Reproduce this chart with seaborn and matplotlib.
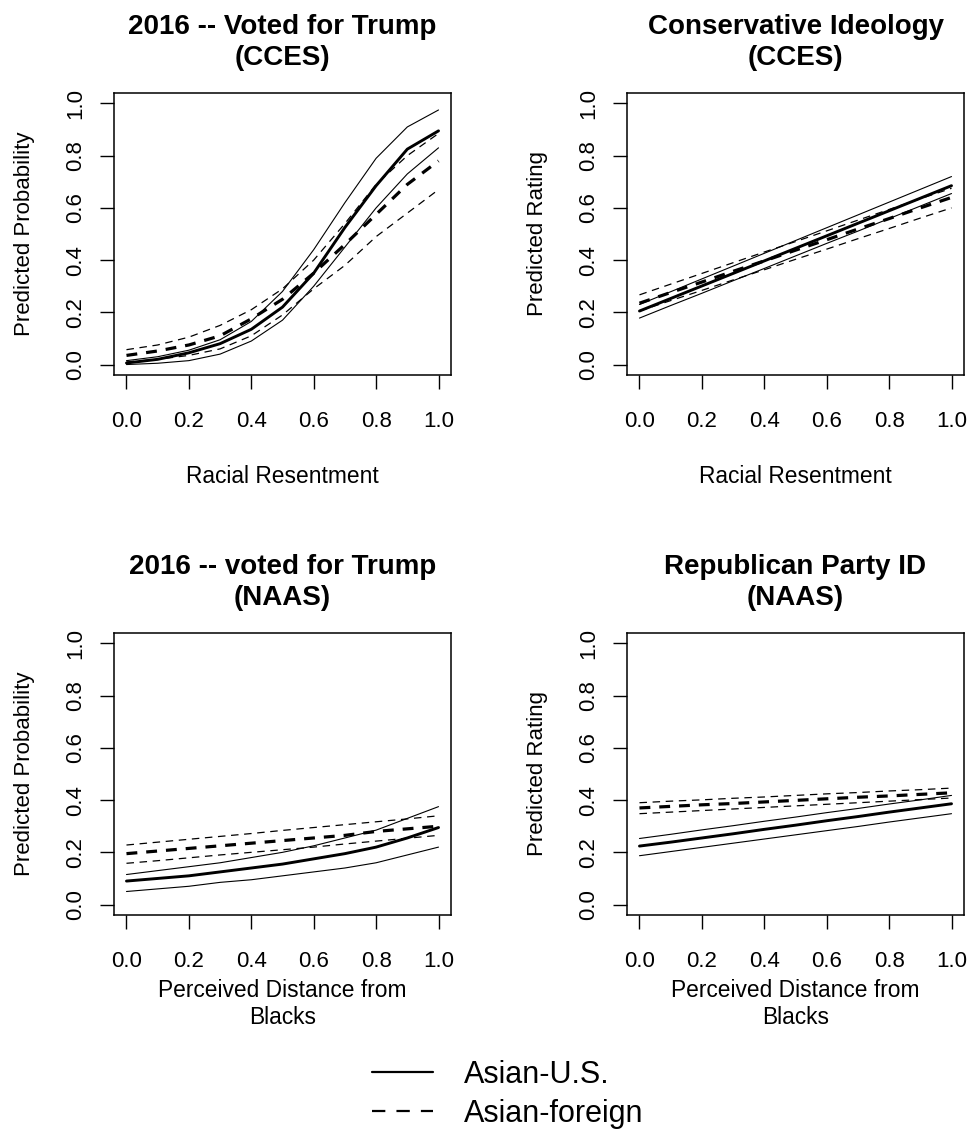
import matplotlib
matplotlib.use("Agg")
import matplotlib.pyplot as plt
import seaborn as sns
import pandas as pd
from matplotlib.lines import Line2D

sns.set_style("ticks")
plt.rcParams['font.family'] = ['Liberation Sans', 'DejaVu Sans']
plt.rcParams['text.color'] = 'black'
plt.rcParams['axes.labelcolor'] = 'black'
plt.rcParams['xtick.color'] = 'black'
plt.rcParams['ytick.color'] = 'black'
plt.rcParams['axes.edgecolor'] = 'black'

# ---------------- data ----------------
X = [0.0, 0.1, 0.2, 0.3, 0.4, 0.5, 0.6, 0.7, 0.8, 0.9, 1.0]

# Panel 1: 2016 -- Voted for Trump (CCES), x = Racial Resentment
p1_us_mean = [0.006, 0.02, 0.045, 0.08, 0.135, 0.22, 0.35, 0.525, 0.685, 0.825, 0.895]
p1_us_hi   = [0.015, 0.03, 0.055, 0.095, 0.165, 0.28, 0.44, 0.62, 0.79, 0.91, 0.975]
p1_us_lo   = [0.0, 0.005, 0.015, 0.04, 0.09, 0.17, 0.30, 0.45, 0.60, 0.73, 0.83]
p1_fr_mean = [0.035, 0.052, 0.075, 0.11, 0.175, 0.25, 0.35, 0.46, 0.575, 0.69, 0.78]
p1_fr_hi   = [0.057, 0.075, 0.105, 0.15, 0.21, 0.29, 0.40, 0.54, 0.69, 0.80, 0.885]
p1_fr_lo   = [0.01, 0.02, 0.035, 0.06, 0.11, 0.19, 0.29, 0.38, 0.49, 0.58, 0.67]

# Panel 2: Conservative Ideology (CCES)
p2_us_mean = [0.205, 0.253, 0.301, 0.349, 0.397, 0.445, 0.493, 0.541, 0.589, 0.637, 0.685]
p2_us_hi   = [0.23, 0.279, 0.328, 0.377, 0.426, 0.475, 0.524, 0.573, 0.622, 0.671, 0.72]
p2_us_lo   = [0.178, 0.226, 0.273, 0.321, 0.368, 0.416, 0.464, 0.511, 0.559, 0.607, 0.655]
p2_fr_mean = [0.235, 0.276, 0.316, 0.357, 0.397, 0.438, 0.478, 0.519, 0.559, 0.60, 0.64]
p2_fr_hi   = [0.267, 0.308, 0.349, 0.390, 0.431, 0.471, 0.512, 0.553, 0.594, 0.635, 0.675]
p2_fr_lo   = [0.205, 0.245, 0.284, 0.324, 0.363, 0.403, 0.442, 0.482, 0.521, 0.561, 0.60]

# Panel 3: 2016 -- voted for Trump (NAAS), x = Perceived Distance from Blacks
p3_us_mean = [0.09, 0.10, 0.11, 0.125, 0.14, 0.155, 0.175, 0.195, 0.22, 0.255, 0.295]
p3_us_hi   = [0.115, 0.13, 0.145, 0.16, 0.18, 0.20, 0.225, 0.255, 0.285, 0.33, 0.375]
p3_us_lo   = [0.05, 0.06, 0.07, 0.085, 0.095, 0.11, 0.125, 0.14, 0.16, 0.19, 0.22]
p3_fr_mean = [0.195, 0.205, 0.215, 0.225, 0.235, 0.245, 0.255, 0.265, 0.28, 0.29, 0.30]
p3_fr_hi   = [0.228, 0.239, 0.25, 0.261, 0.272, 0.284, 0.295, 0.306, 0.317, 0.328, 0.34]
p3_fr_lo   = [0.158, 0.168, 0.179, 0.19, 0.2, 0.21, 0.22, 0.232, 0.243, 0.254, 0.265]

# Panel 4: Republican Party ID (NAAS)
p4_us_mean = [0.224, 0.239, 0.255, 0.271, 0.288, 0.304, 0.321, 0.337, 0.354, 0.37, 0.386]
p4_us_hi   = [0.253, 0.269, 0.286, 0.302, 0.319, 0.335, 0.352, 0.368, 0.385, 0.401, 0.418]
p4_us_lo   = [0.187, 0.203, 0.219, 0.235, 0.251, 0.267, 0.283, 0.299, 0.316, 0.332, 0.348]
p4_fr_mean = [0.37, 0.376, 0.382, 0.387, 0.393, 0.399, 0.405, 0.411, 0.416, 0.422, 0.428]
p4_fr_hi   = [0.39, 0.396, 0.401, 0.407, 0.412, 0.418, 0.424, 0.429, 0.435, 0.44, 0.446]
p4_fr_lo   = [0.348, 0.354, 0.36, 0.366, 0.372, 0.378, 0.384, 0.39, 0.396, 0.402, 0.408]

titles = ["2016 -- Voted for Trump\n(CCES)", "Conservative Ideology\n(CCES)",
          "2016 -- voted for Trump\n(NAAS)", "Republican Party ID\n(NAAS)"]
ylabels = ["Predicted Probability", "Predicted Rating",
           "Predicted Probability", "Predicted Rating"]
xlabels = ["Racial Resentment", "Racial Resentment",
           "Perceived Distance from\nBlacks", "Perceived Distance from\nBlacks"]
tick_vals = [0.0, 0.2, 0.4, 0.6, 0.8, 1.0]
tick_labels = ["0.0", "0.2", "0.4", "0.6", "0.8", "1.0"]
legend_labels = ["Asian-U.S.", "Asian-foreign"]

series = [
    (p1_us_mean, p1_us_hi, p1_us_lo, p1_fr_mean, p1_fr_hi, p1_fr_lo),
    (p2_us_mean, p2_us_hi, p2_us_lo, p2_fr_mean, p2_fr_hi, p2_fr_lo),
    (p3_us_mean, p3_us_hi, p3_us_lo, p3_fr_mean, p3_fr_hi, p3_fr_lo),
    (p4_us_mean, p4_us_hi, p4_us_lo, p4_fr_mean, p4_fr_hi, p4_fr_lo),
]
names = ["us_mean", "us_hi", "us_lo", "fr_mean", "fr_hi", "fr_lo"]

# ---------------- styles ----------------
styles = {
    "us_mean": dict(lw=2.1, linestyle="-"),
    "us_hi":   dict(lw=0.8, linestyle="-"),
    "us_lo":   dict(lw=0.8, linestyle="-"),
    "fr_mean": dict(lw=2.3, linestyle=(0, (3.4, 2.8))),
    "fr_hi":   dict(lw=0.9, linestyle=(0, (6.0, 4.5))),
    "fr_lo":   dict(lw=0.9, linestyle=(0, (6.0, 4.5))),
}

W, H = 972, 1147
fig = plt.figure(figsize=(W / 100, H / 100), dpi=100)
boxes = [(114, 93, 451, 375), (627, 93, 964, 375),
         (114, 633, 451, 915), (627, 633, 964, 915)]

FS = 16
for i, (l, t, r, b) in enumerate(boxes):
    ax = fig.add_axes([l / W, 1 - b / H, (r - l) / W, (b - t) / H])
    for name, vals in zip(names, series[i]):
        df = pd.DataFrame({"x": X, "y": vals})
        sns.lineplot(data=df, x="x", y="y", ax=ax, color="black",
                     legend=False, **styles[name])
    ax.set_xlim(-0.04, 1.04)
    ax.set_ylim(-0.04, 1.04)
    ax.set_xticks(tick_vals)
    ax.set_xticklabels(tick_labels)
    ax.set_yticks(tick_vals)
    ax.set_yticklabels(tick_labels, rotation=90, va="center")
    ax.tick_params(axis="both", direction="out", length=10, width=1.0,
                   labelsize=FS, colors="black")
    ax.tick_params(axis="x", pad=16)
    ax.tick_params(axis="y", pad=10)
    for sp in ax.spines.values():
        sp.set_visible(True)
        sp.set_linewidth(1.1)
        sp.set_color("black")
    ax.set_title(titles[i], fontsize=20, fontweight="bold", pad=20,
                 linespacing=1.25, color="black")
    ax.set_ylabel(ylabels[i], fontsize=FS, labelpad=22)
    ax.set_xlabel(xlabels[i], fontsize=16.4, labelpad=(24 if i < 2 else 5))

handles = [Line2D([], [], color="black", lw=1.6, linestyle="-"),
           Line2D([], [], color="black", lw=1.6, linestyle=(0, (6, 5)))]
leg = fig.legend(handles, legend_labels, loc="center", bbox_to_anchor=(0.522, 0.046),
                 frameon=False, fontsize=22, handlelength=2.0, handletextpad=1.0,
                 labelspacing=0.3, borderpad=0)
for txt in leg.get_texts():
    txt.set_color("black")

fig.savefig("out.png", dpi=100, facecolor="white")
